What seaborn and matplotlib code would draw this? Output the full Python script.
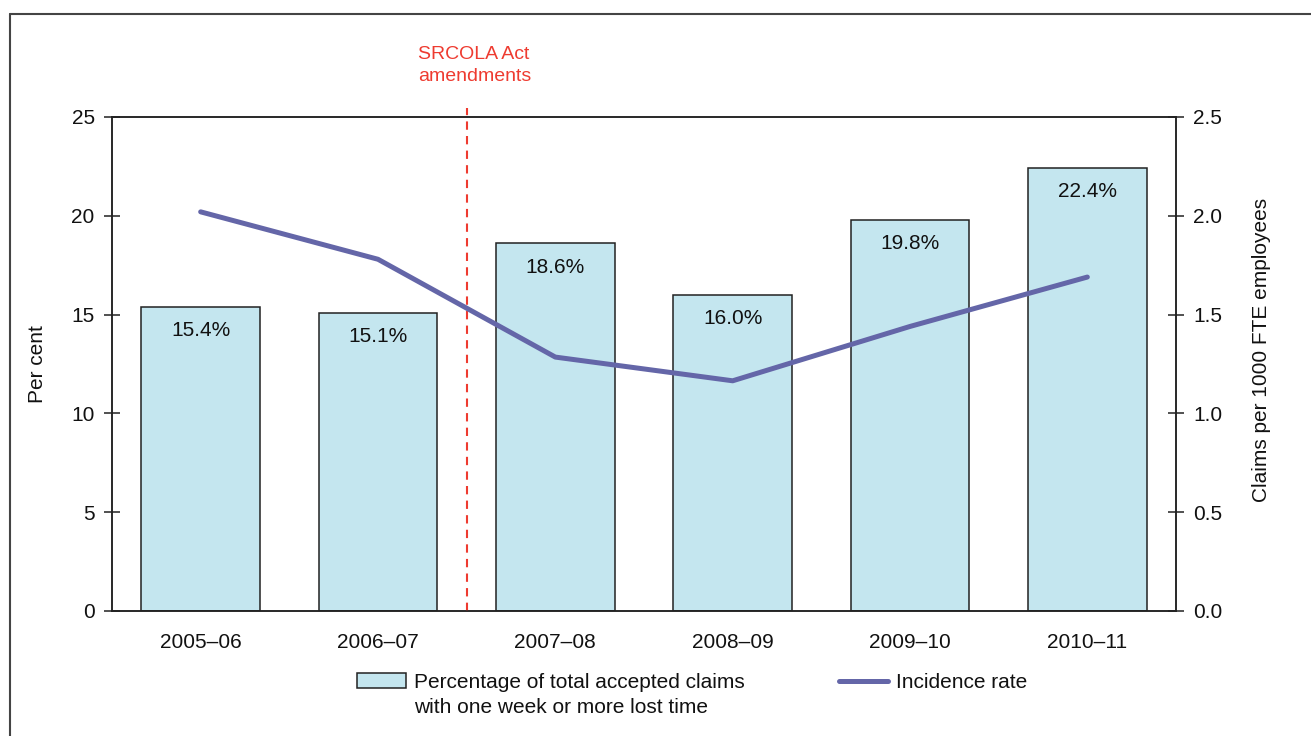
import numpy as np
import pandas as pd
import matplotlib
matplotlib.use("Agg")
import matplotlib.pyplot as plt
from matplotlib.lines import Line2D
import seaborn as sns

categories = ["2005–06", "2006–07", "2007–08", "2008–09", "2009–10", "2010–11"]
pct_lost_time = [15.4, 15.1, 18.6, 16.0, 19.8, 22.4]
incidence_rate = [2.02, 1.78, 1.285, 1.165, 1.44, 1.69]
left_ticks = [0, 5, 10, 15, 20, 25]
right_ticks = [0.0, 0.5, 1.0, 1.5, 2.0, 2.5]
bar_label_lines = ["Percentage of total accepted claims", "with one week or more lost time"]
line_label_txt = "Incidence rate"

sns.set_style("white")
plt.rcParams["font.family"] = ["Liberation Sans", "DejaVu Sans"]

BAR_COLOR = "#c4e6ef"
LINE_COLOR = "#6466a8"
RED = "#ee3b30"
DARK = "#222222"
W, H = 1311, 736

fig = plt.figure(figsize=(W / 100, H / 100), dpi=100)
ax = fig.add_axes([112 / W, 1 - 611 / H, (1176 - 112) / W, (611 - 117) / H])

df = pd.DataFrame({"cat": categories, "pct": pct_lost_time,
                   "x": np.arange(len(categories)), "rate": incidence_rate})

sns.barplot(data=df, x="cat", y="pct", ax=ax, color=BAR_COLOR, saturation=1,
            width=0.67, edgecolor=DARK, linewidth=1.1, zorder=2)
ax.set_xlim(-0.5, len(categories) - 0.5)
ax.set_ylim(0, 25)

for i, v in enumerate(pct_lost_time):
    ax.annotate(f"{v:.1f}%", xy=(i, v), xytext=(0, -17), textcoords="offset points",
                ha="center", va="center", fontsize=15, color="#111111", zorder=5)

ax2 = ax.twinx()
sns.lineplot(data=df, x="x", y="rate", ax=ax2, color=LINE_COLOR, linewidth=3.6,
             zorder=4, legend=False)
ax2.set_ylim(0, 2.5)
ax2.set_xlim(-0.5, len(categories) - 0.5)

# ticks
ax.set_yticks(left_ticks)
ax.set_yticklabels([str(t) for t in left_ticks])
ax2.set_yticks(right_ticks)
ax2.set_yticklabels([f"{t:.1f}" for t in right_ticks])
ax.set_xticks(np.arange(-0.5, len(categories), 1.0))
ax.set_xticklabels([""] * (len(categories) + 1))
ax.set_xticks(np.arange(len(categories)), minor=True)
ax.set_xticklabels(categories, minor=True)
ax.tick_params(axis="x", which="major", direction="out", length=5, width=1.1, color=DARK)
ax.tick_params(axis="x", which="minor", length=0, pad=16, labelsize=15, labelcolor="#111111")
ax.tick_params(axis="y", direction="inout", length=12, width=1.1, color=DARK, pad=6.5,
               labelsize=15, labelcolor="#111111", left=True)
ax2.tick_params(axis="y", direction="inout", length=12, width=1.1, color=DARK, pad=6.5,
                labelsize=15, labelcolor="#111111", right=True)
ax2.set_xticks([])
ax.set_xlabel("")

for a in (ax, ax2):
    for s in a.spines.values():
        s.set_color(DARK)
        s.set_linewidth(1.1)

ax.set_ylabel("Per cent", fontsize=15, color="#111111")
ax.yaxis.set_label_coords(-0.061, 0.5)
ax2.set_ylabel("Claims per 1000 FTE employees", fontsize=15, color="#111111")
ax2.yaxis.set_label_coords(1.0714, 0.528)

# SRCOLA amendment marker
ax.plot([1.5, 1.5], [0, 25.45], color=RED, linestyle=(0, (4, 3)), linewidth=1.5,
        clip_on=False, zorder=3)
ax.text(418 / W, 1 - 46 / H, "SRCOLA Act\namendments", transform=fig.transFigure,
        ha="left", va="top", fontsize=14, color=RED, linespacing=1.38)

# legend
handles = [plt.Rectangle((0, 0), 1, 1, facecolor=BAR_COLOR, edgecolor=DARK, linewidth=1.1),
           Line2D([0], [0], color=LINE_COLOR, linewidth=3.6)]
leg = fig.legend(handles, [bar_label_lines[0], line_label_txt], loc="upper left",
                 bbox_to_anchor=(357 / W, 1 - 673 / H), ncol=2, frameon=False,
                 fontsize=15, borderpad=0, borderaxespad=0, handlelength=2.35,
                 handleheight=0.72, handletextpad=0.4, columnspacing=4.5,
                 labelcolor="#111111")
fig.canvas.draw()
bb = leg.get_texts()[0].get_window_extent()
fig.text(bb.x0 / W, (bb.y1 - 25) / H, bar_label_lines[1], ha="left", va="top",
         fontsize=15, color="#111111")

# outer frame
fig.add_artist(Line2D([10 / W, 10 / W], [0, 1 - 14 / H], transform=fig.transFigure,
                      color="#444444", linewidth=1.5))
fig.add_artist(Line2D([10 / W, 1], [1 - 14 / H, 1 - 14 / H], transform=fig.transFigure,
                      color="#444444", linewidth=1.5))

fig.savefig("out.png", dpi=100)
